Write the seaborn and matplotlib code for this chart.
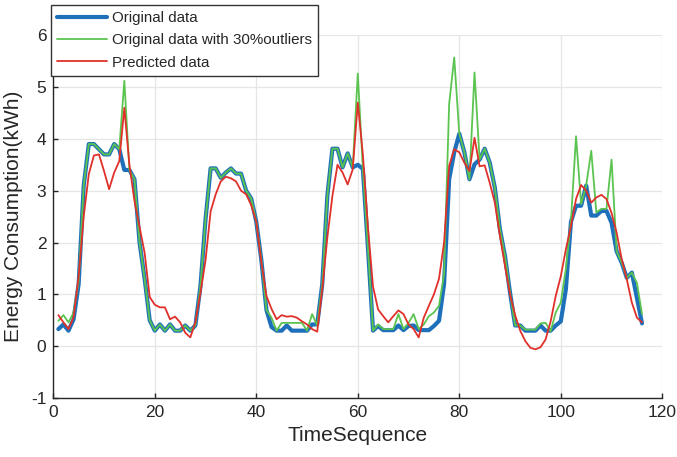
import numpy as np
import pandas as pd
import matplotlib
matplotlib.use("Agg")
import matplotlib.pyplot as plt
import seaborn as sns

time_seq = list(range(1, 117))

original = [0.33, 0.42, 0.30, 0.52, 1.20, 3.10, 3.90, 3.90, 3.80, 3.70,
            3.70, 3.90, 3.80, 3.40, 3.40, 3.22, 2.00, 1.30, 0.50, 0.30,
            0.42, 0.30, 0.42, 0.30, 0.30, 0.40, 0.30, 0.40, 1.16, 2.45,
            3.43, 3.43, 3.25, 3.35, 3.43, 3.33, 3.33, 3.00, 2.85, 2.40,
            1.66, 0.70, 0.37, 0.30, 0.30, 0.40, 0.30, 0.30, 0.30, 0.30,
            0.42, 0.42, 1.20, 2.90, 3.81, 3.81, 3.45, 3.72, 3.45, 3.50,
            3.42, 1.90, 0.30, 0.39, 0.31, 0.31, 0.31, 0.40, 0.31, 0.39,
            0.40, 0.31, 0.31, 0.31, 0.39, 0.49, 1.20, 3.22, 3.74, 4.10,
            3.74, 3.22, 3.51, 3.60, 3.81, 3.54, 3.06, 2.26, 1.74, 1.03,
            0.40, 0.40, 0.30, 0.30, 0.30, 0.40, 0.30, 0.30, 0.40, 0.48,
            1.10, 2.40, 2.71, 2.71, 3.10, 2.52, 2.52, 2.61, 2.61, 2.38,
            1.83, 1.61, 1.32, 1.42, 0.93, 0.44]

with_outliers = [0.49, 0.60, 0.46, 0.65, 1.25, 3.10, 3.90, 3.90, 3.80, 3.70,
                 3.70, 3.90, 3.80, 5.12, 3.40, 3.22, 2.00, 1.30, 0.50, 0.30,
                 0.42, 0.30, 0.42, 0.30, 0.30, 0.40, 0.30, 0.40, 1.16, 2.45,
                 3.43, 3.43, 3.25, 3.35, 3.43, 3.33, 3.33, 3.00, 2.85, 2.40,
                 1.66, 0.70, 0.55, 0.30, 0.45, 0.45, 0.45, 0.45, 0.45, 0.30,
                 0.62, 0.40, 1.20, 2.90, 3.81, 3.81, 3.45, 3.72, 3.45, 5.26,
                 3.42, 1.90, 0.30, 0.42, 0.33, 0.33, 0.33, 0.62, 0.33, 0.45,
                 0.62, 0.33, 0.42, 0.58, 0.65, 0.78, 1.40, 4.67, 5.57, 4.10,
                 3.74, 3.22, 5.28, 3.60, 3.81, 3.54, 3.06, 2.26, 1.74, 1.03,
                 0.40, 0.40, 0.32, 0.32, 0.32, 0.44, 0.45, 0.29, 0.65, 0.84,
                 1.50, 2.42, 4.05, 2.74, 3.10, 3.77, 2.58, 2.65, 2.65, 3.60,
                 1.83, 1.61, 1.32, 1.42, 1.22, 0.62]

predicted = [0.60, 0.46, 0.33, 0.56, 1.35, 2.51, 3.32, 3.68, 3.70, 3.38,
             3.03, 3.35, 3.57, 4.60, 3.50, 2.80, 2.30, 1.80, 0.95, 0.80,
             0.75, 0.75, 0.52, 0.57, 0.46, 0.26, 0.17, 0.46, 1.03, 1.66,
             2.60, 2.93, 3.18, 3.27, 3.24, 3.18, 3.00, 2.93, 2.72, 2.40,
             1.62, 0.97, 0.72, 0.52, 0.60, 0.57, 0.58, 0.55, 0.48, 0.42,
             0.33, 0.28, 1.10, 2.10, 2.90, 3.50, 3.35, 3.12, 3.41, 4.70,
             3.70, 2.30, 1.15, 0.71, 0.58, 0.46, 0.58, 0.69, 0.62, 0.42,
             0.33, 0.17, 0.55, 0.78, 1.00, 1.30, 2.00, 3.48, 3.80, 3.74,
             3.54, 3.38, 4.02, 3.47, 3.49, 3.15, 2.77, 2.13, 1.55, 1.00,
             0.60, 0.30, 0.10, -0.03, -0.06, -0.02, 0.13, 0.48, 0.97, 1.35,
             1.87, 2.32, 2.84, 3.11, 3.00, 2.77, 2.87, 2.92, 2.84, 2.57,
             2.19, 1.68, 1.29, 0.84, 0.55, 0.46]

x_ticks = [0, 20, 40, 60, 80, 100, 120]
y_ticks = [-1, 0, 1, 2, 3, 4, 5, 6]

df = pd.DataFrame({'t': time_seq, 'orig': original,
                   'outl': with_outliers, 'pred': predicted})

sns.set_style("whitegrid")
plt.rcParams['font.family'] = ['Liberation Sans', 'DejaVu Sans']
plt.rcParams['axes.unicode_minus'] = False

fig = plt.figure(figsize=(6.77, 4.57), dpi=100)
ax = fig.add_axes([0.0787, 0.129, 0.8996, 0.794])

sns.lineplot(data=df, x='t', y='orig', color='#1f70ba', linewidth=3.0,
             label='Original data', legend=False, ax=ax)
sns.lineplot(data=df, x='t', y='outl', color='#5bc450', linewidth=1.3,
             label='Original data with 30%outliers', legend=False, ax=ax)
sns.lineplot(data=df, x='t', y='pred', color='#e0302a', linewidth=1.3,
             label='Predicted data', legend=False, ax=ax)

ax.set_xlim(0, 120)
ax.set_ylim(-1, 6)
ax.set_xticks(x_ticks)
ax.set_yticks(y_ticks)
ax.grid(True, color='#e6e6e6', linewidth=0.9)
ax.set_axisbelow(True)
for s in ['top', 'right']:
    ax.spines[s].set_visible(False)
for s in ['left', 'bottom']:
    ax.spines[s].set_color('#262626')
    ax.spines[s].set_linewidth(1.0)
ax.tick_params(direction='in', length=3.5, width=1, colors='#262626',
               labelsize=12.5, pad=5, left=True, bottom=True)

ax.set_xlabel('TimeSequence', fontsize=15, color='#262626', labelpad=4)
ax.set_ylabel('Energy Consumption(kWh)', fontsize=15, color='#262626', labelpad=6)

leg = ax.legend(loc='upper left', bbox_to_anchor=(51 / 677, 1 - 5 / 457),
                bbox_transform=fig.transFigure, fontsize=10.9, frameon=True,
                fancybox=False, framealpha=1, edgecolor='#333333',
                handlelength=3.3, labelspacing=0.55, borderpad=0.4,
                handletextpad=0.35, borderaxespad=0)
leg.get_frame().set_linewidth(1.0)

fig.savefig('out.png', dpi=100)
